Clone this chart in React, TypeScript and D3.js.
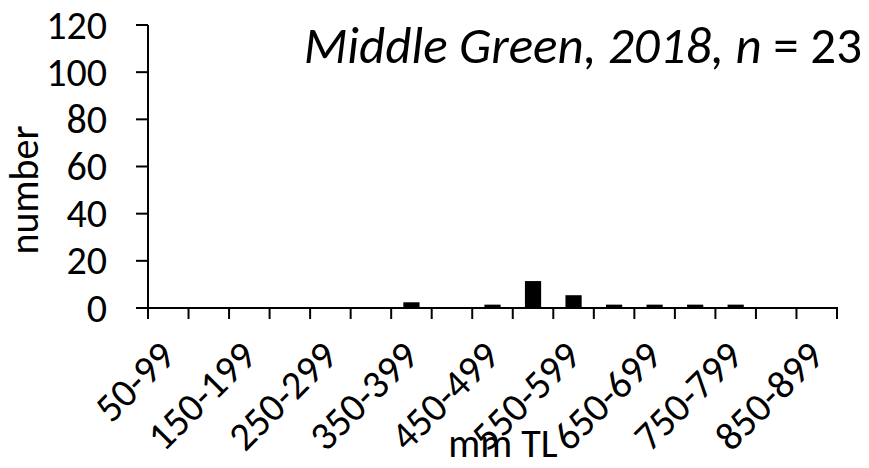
import React from 'react';
import * as d3 from 'd3';

const categories = [
  '50-99', '100-149', '150-199', '200-249', '250-299', '300-349', '350-399', '400-449',
  '450-499', '500-549', '550-599', '600-649', '650-699', '700-749', '750-799', '800-849', '850-899',
];
const counts = [0, 0, 0, 0, 0, 0, 2, 0, 1, 11, 5, 1, 1, 1, 1, 0, 0];
const yTicks = [0, 20, 40, 60, 80, 100, 120];
const titleMain = 'Middle Green, 2018, ';
const titleN = 'n';
const titleRest = ' = 23';
const xTitle = 'mm TL';
const yTitle = 'number';

const FONT = 'Carlito, Calibri, Lato, sans-serif';

export default function App() {
  const W = 869, H = 468;
  const left = 148, right = 837, top = 25, bottom = 308;
  const xCell = d3.scaleBand<string>().domain(categories).range([left, right]).padding(0);
  const xBar = d3.scaleBand<string>().domain(categories).range([left, right]).paddingInner(0.6).paddingOuter(0.3);
  const y = d3.scaleLinear().domain([0, 120]).range([bottom, top]);
  const boundaries = [...categories.map((c) => xCell(c) as number), right];

  return (
    <svg width={W} height={H} style={{ position: 'absolute', left: 0, top: 0, background: '#fff' }} fontFamily={FONT}>
      <rect x={0} y={0} width={W} height={H} fill="#fff" />
      {categories.map((c, i) =>
        counts[i] > 0 ? (
          <rect key={c} x={xBar(c)} y={y(counts[i]) - 1} width={xBar.bandwidth()} height={y(0) - y(counts[i]) + 1} fill="#000" />
        ) : null
      )}
      {/* y axis */}
      <line x1={left} x2={left} y1={y(120)} y2={y(0)} stroke="#000" strokeWidth={2} />
      {yTicks.map((t) => (
        <g key={t}>
          <line x1={left - 12} x2={left} y1={y(t)} y2={y(t)} stroke="#000" strokeWidth={2} />
          <text x={107} y={y(t)} dy="0.34em" textAnchor="end" fontSize={40} fill="#000">{t}</text>
        </g>
      ))}
      {/* x axis */}
      <line x1={left - 1} x2={right + 1} y1={y(0)} y2={y(0)} stroke="#000" strokeWidth={2} />
      {boundaries.map((b, i) => (
        <line key={i} x1={b} x2={b} y1={y(0)} y2={y(0) + 11} stroke="#000" strokeWidth={2} />
      ))}
      {categories.map((c, i) =>
        i % 2 === 0 ? (
          <text
            key={c}
            transform={`translate(${(xCell(c) as number) + xCell.bandwidth() / 2 - 1},${y(0) + 40}) rotate(-45)`}
            textAnchor="end"
            dy="0.36em"
            fontSize={40}
            fill="#000"
          >
            {c}
          </text>
        ) : null
      )}
      <text x={503} y={457} textAnchor="middle" fontSize={40} fill="#000">{xTitle}</text>
      <text transform={`translate(38,190) rotate(-90)`} textAnchor="middle" fontSize={40} fill="#000">{yTitle}</text>
      <text x={862} y={63} textAnchor="end" fontSize={51} fill="#000">
        <tspan fontStyle="italic">{titleMain}</tspan>
        <tspan fontStyle="italic">{titleN}</tspan>
        <tspan>{titleRest}</tspan>
      </text>
    </svg>
  );
}
